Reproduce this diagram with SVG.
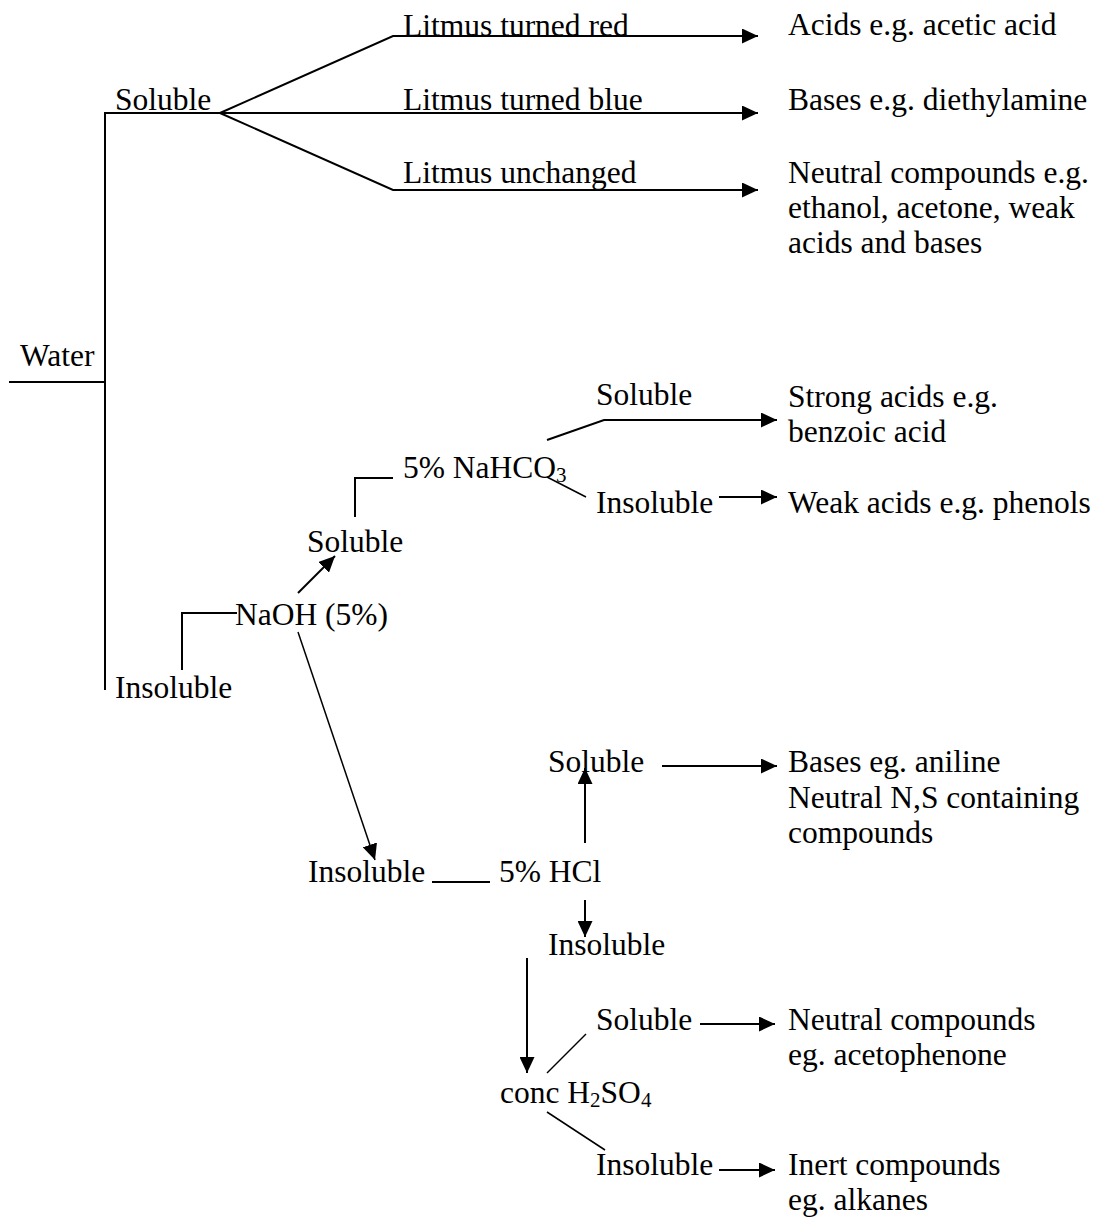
<svg xmlns="http://www.w3.org/2000/svg" width="1099" height="1219" viewBox="0 0 1099 1219">
<style>
text{font-family:"Liberation Serif","Times New Roman",serif;font-size:31.5px;fill:#000}
.sub{font-size:21px}
.c{fill:none;stroke:#000;stroke-width:2}
.t{fill:none;stroke:#000;stroke-width:1.5}
</style>
<defs>
<marker id="ah" markerUnits="userSpaceOnUse" markerWidth="16" markerHeight="15" refX="16" refY="7.5" orient="auto">
<path d="M0,0 L16,7.5 L0,15 z" fill="#000"/>
</marker>
</defs>
<rect width="1099" height="1219" fill="#fff"/>
<g id="connectors">
<path class="c" d="M9,382 H105"/>
<path class="c" d="M105,690 V113 H758" marker-end="url(#ah)"/>
<path class="c" d="M220,113 L393,36 H758" marker-end="url(#ah)"/>
<path class="c" d="M220,113 L393,190 H758" marker-end="url(#ah)"/>
<path class="c" d="M182,670 V613 H237"/>
<path class="c" d="M298,593 L335,556" marker-end="url(#ah)"/>
<path class="c" d="M355,517 V478 H393"/>
<path class="c" d="M547,440 L604,420 H777" marker-end="url(#ah)"/>
<path class="t" d="M547,477 L586,497"/>
<path class="c" d="M719,497 H777" marker-end="url(#ah)"/>
<path class="t" d="M298,632 L375,860" marker-end="url(#ah)"/>
<path class="c" d="M432,882 H490"/>
<path class="c" d="M585,843 V768" marker-end="url(#ah)"/>
<path class="c" d="M662,766 H777" marker-end="url(#ah)"/>
<path class="c" d="M585,900 V937" marker-end="url(#ah)"/>
<path class="c" d="M527,958 V1073" marker-end="url(#ah)"/>
<path class="t" d="M547,1073 L586,1034"/>
<path class="c" d="M700,1024 H775" marker-end="url(#ah)"/>
<path class="t" d="M547,1112 L605,1150"/>
<path class="c" d="M719,1170 H775" marker-end="url(#ah)"/>
</g>
<g id="water"><text x="20" y="366">Water</text></g>
<g id="soluble-water"><text x="115" y="110">Soluble</text></g>
<g id="litmus-red"><text x="403" y="36">Litmus turned red</text></g>
<g id="litmus-blue"><text x="403" y="110">Litmus turned blue</text></g>
<g id="litmus-unchanged"><text x="403" y="183">Litmus unchanged</text></g>
<g id="acids"><text x="788" y="35">Acids e.g. acetic acid</text></g>
<g id="bases"><text x="788" y="110">Bases e.g. diethylamine</text></g>
<g id="neutral"><text x="788" y="183">Neutral compounds e.g.</text><text x="788" y="218">ethanol, acetone, weak</text><text x="788" y="253">acids and bases</text></g>
<g id="insoluble-water"><text x="115" y="698">Insoluble</text></g>
<g id="naoh"><text x="235" y="625">NaOH (5%)</text></g>
<g id="soluble-naoh"><text x="307" y="552">Soluble</text></g>
<g id="nahco3"><text x="403" y="478">5% NaHCO<tspan class="sub" dy="4">3</tspan></text></g>
<g id="soluble-nahco3"><text x="596" y="405">Soluble</text></g>
<g id="strong-acids"><text x="788" y="407">Strong acids e.g.</text><text x="788" y="442">benzoic acid</text></g>
<g id="insoluble-nahco3"><text x="596" y="513">Insoluble</text></g>
<g id="weak-acids"><text x="788" y="513">Weak acids e.g. phenols</text></g>
<g id="insoluble-naoh"><text x="308" y="882">Insoluble</text></g>
<g id="hcl"><text x="499" y="882">5% HCl</text></g>
<g id="soluble-hcl"><text x="548" y="772">Soluble</text></g>
<g id="bases-aniline"><text x="788" y="772">Bases eg. aniline</text><text x="788" y="808">Neutral N,S containing</text><text x="788" y="843">compounds</text></g>
<g id="insoluble-hcl"><text x="548" y="955">Insoluble</text></g>
<g id="h2so4"><text x="500" y="1103">conc H<tspan class="sub" dy="4">2</tspan><tspan dy="-4">SO</tspan><tspan class="sub" dy="4">4</tspan></text></g>
<g id="soluble-h2so4"><text x="596" y="1030">Soluble</text></g>
<g id="neutral-aceto"><text x="788" y="1030">Neutral compounds</text><text x="788" y="1065">eg. acetophenone</text></g>
<g id="insoluble-h2so4"><text x="596" y="1175">Insoluble</text></g>
<g id="inert"><text x="788" y="1175">Inert compounds</text><text x="788" y="1210">eg. alkanes</text></g>
</svg>
